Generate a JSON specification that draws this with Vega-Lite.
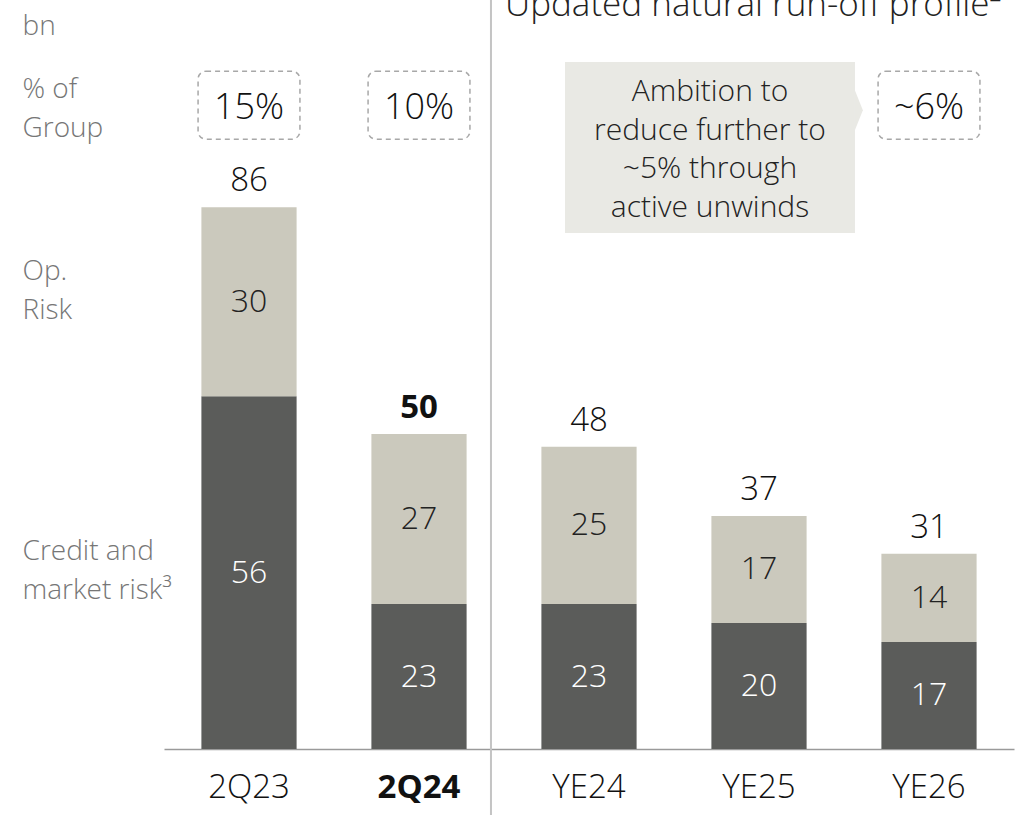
{
  "$schema": "https://vega.github.io/schema/vega-lite/v6.json",
  "autosize": {"type": "none"},
  "padding": {"left": 164, "top": 0, "right": 10, "bottom": 71},
  "width": 850,
  "height": 749,
  "background": "white",
  "config": {"view": {"stroke": null}, "font": "Open Sans", "text": {"fontWeight": 300}},
  "datasets": {
    "bars": [
      {"period": "2Q23", "type": "Credit and market risk", "value": 56},
      {"period": "2Q23", "type": "Op. Risk", "value": 30},
      {"period": "2Q24", "type": "Credit and market risk", "value": 23},
      {"period": "2Q24", "type": "Op. Risk", "value": 27},
      {"period": "YE24", "type": "Credit and market risk", "value": 23},
      {"period": "YE24", "type": "Op. Risk", "value": 25},
      {"period": "YE25", "type": "Credit and market risk", "value": 20},
      {"period": "YE25", "type": "Op. Risk", "value": 17},
      {"period": "YE26", "type": "Credit and market risk", "value": 17},
      {"period": "YE26", "type": "Op. Risk", "value": 14}
    ],
    "pct": [
      {"period": "2Q23", "pct": "15%"},
      {"period": "2Q24", "pct": "10%"},
      {"period": "YE26", "pct": "~6%"}
    ]
  },
  "layer": [
    {
      "data": {"name": "bars"},
      "mark": {"type": "bar"},
      "encoding": {
        "x": {
          "field": "period", "type": "nominal",
          "sort": ["2Q23", "2Q24", "YE24", "YE25", "YE26"],
          "scale": {"paddingInner": 0.44, "paddingOuter": 0.22},
          "title": null,
          "axis": {
            "labelAngle": 0, "ticks": false, "tickSize": 0,
            "domainColor": "#9a9a9a", "domainWidth": 1.5,
            "labelFontSize": 33, "labelColor": "#111111", "labelFont": "Open Sans",
            "labelBaseline": "alphabetic", "labelPadding": 48,
            "labelFontWeight": {"condition": {"test": "datum.value === '2Q24'", "value": "bold"}, "value": 300}
          }
        },
        "y": {
          "field": "value", "type": "quantitative", "stack": "zero",
          "scale": {"domain": [0, 118.9], "nice": false, "zero": true},
          "title": null,
          "axis": {
            "orient": "left", "grid": false, "domain": false, "ticks": false, "tickSize": 0,
            "values": [30.16, 74.6, 103.5, 113.5],
            "labelExpr": "datum.value < 40 ? ['Credit and', 'market risk³'] : datum.value < 80 ? ['Op.', 'Risk'] : datum.value < 110 ? ['% of', 'Group'] : 'bn'",
            "labelAlign": "left", "labelBaseline": "alphabetic", "labelPadding": 142,
            "labelFontSize": 28, "labelColor": "#767676", "labelLineHeight": 39, "labelFontWeight": 300,
            "labelOverlap": false, "labelFont": "Open Sans", "labelBound": false, "labelFlush": false
          }
        },
        "color": {
          "field": "type", "type": "nominal",
          "scale": {"domain": ["Credit and market risk", "Op. Risk"], "range": ["#5b5c5a", "#cbc9bd"]},
          "legend": null
        },
        "order": {"field": "type", "sort": "ascending"}
      }
    },
    {
      "data": {"name": "bars"},
      "mark": {"type": "text", "fontSize": 32, "baseline": "middle", "align": "center", "fontWeight": 300},
      "encoding": {
        "x": {"field": "period", "type": "nominal", "sort": ["2Q23", "2Q24", "YE24", "YE25", "YE26"]},
        "y": {"field": "value", "type": "quantitative", "stack": "zero", "bandPosition": 0.5},
        "detail": {"field": "type"},
        "order": {"field": "type", "sort": "ascending"},
        "text": {"field": "value", "type": "quantitative"},
        "color": {"condition": {"test": "datum.type === 'Op. Risk'", "value": "#222222"}, "value": "#ffffff"}
      }
    },
    {
      "data": {"name": "bars"},
      "mark": {"type": "text", "fontSize": 33, "baseline": "alphabetic", "align": "center", "dy": -16, "color": "#111111",
        "fontWeight": {"expr": "datum.period === '2Q24' ? 'bold' : 300"}},
      "encoding": {
        "x": {"field": "period", "type": "nominal", "sort": ["2Q23", "2Q24", "YE24", "YE25", "YE26"]},
        "y": {"aggregate": "sum", "field": "value", "type": "quantitative"},
        "text": {"aggregate": "sum", "field": "value", "type": "quantitative"}
      }
    },
    {
      "data": {"name": "pct"},
      "mark": {"type": "rect", "filled": false, "stroke": "#a8a8a8", "strokeWidth": 1.5, "strokeDash": [5, 4], "cornerRadius": 8, "width": {"band": 1.07}},
      "encoding": {
        "x": {"field": "period", "type": "nominal", "sort": ["2Q23", "2Q24", "YE24", "YE25", "YE26"]},
        "y": {"datum": 107.6, "type": "quantitative"},
        "y2": {"datum": 96.8}
      }
    },
    {
      "data": {"name": "pct"},
      "mark": {"type": "text", "fontSize": 36, "baseline": "alphabetic", "align": "center", "color": "#111111", "fontWeight": 300},
      "encoding": {
        "x": {"field": "period", "type": "nominal", "sort": ["2Q23", "2Q24", "YE24", "YE25", "YE26"]},
        "y": {"datum": 100.0, "type": "quantitative"},
        "text": {"field": "pct", "type": "nominal"}
      }
    },
    {
      "data": {"values": [{"note": "ambition"}]},
      "mark": {"type": "rect", "fill": "#e9e9e4"},
      "encoding": {
        "x": {"datum": "YE24", "bandPosition": 0.248},
        "x2": {"datum": "YE25", "bandPosition": 1.508},
        "y": {"datum": 109.06, "type": "quantitative"},
        "y2": {"datum": 81.91}
      }
    },
    {
      "data": {"values": [{"note": "ambition"}]},
      "mark": {"type": "point", "shape": "M 0 -1 L 0.4 0 L 0 1 Z", "size": 1681, "filled": true, "fill": "#e9e9e4", "opacity": 1, "strokeWidth": 0},
      "encoding": {
        "x": {"datum": "YE25", "bandPosition": 1.505},
        "y": {"datum": 101.4, "type": "quantitative"}
      }
    },
    {
      "data": {"values": [{"note": "ambition"}]},
      "mark": {"type": "text", "fontSize": 30, "baseline": "alphabetic", "align": "center", "color": "#222222", "lineHeight": 38.5, "fontWeight": 300,
        "text": ["Ambition to", "reduce further to", "~5% through", "active unwinds"]},
      "encoding": {
        "x": {"datum": "YE25", "bandPosition": -0.015},
        "y": {"datum": 102.86, "type": "quantitative"}
      }
    },
    {
      "data": {"values": [{"label": "Updated natural run-off profile²"}]},
      "mark": {"type": "text", "fontSize": 35, "baseline": "alphabetic", "align": "left", "color": "#222222", "fontWeight": 300},
      "encoding": {
        "x": {"datum": "YE24", "bandPosition": -0.382},
        "y": {"datum": 116.36, "type": "quantitative"},
        "text": {"field": "label", "type": "nominal"}
      }
    },
    {
      "data": {"values": [{"note": "divider"}]},
      "mark": {"type": "rule", "color": "#c4c4c4", "strokeWidth": 2},
      "encoding": {
        "x": {"datum": "2Q24", "bandPosition": 1.256},
        "y": {"datum": 118.9, "type": "quantitative"},
        "y2": {"datum": -10.48}
      }
    }
  ]
}
